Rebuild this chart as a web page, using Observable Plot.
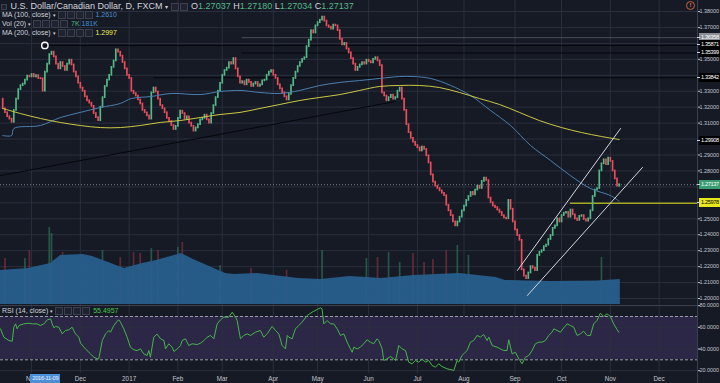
<!DOCTYPE html>
<html><head><meta charset="utf-8">
<script src="https://cdn.jsdelivr.net/npm/d3@7"></script>
<script src="https://cdn.jsdelivr.net/npm/@observablehq/plot@0.6"></script>
<style>
html,body{margin:0;padding:0;background:#161a25;}
#wrap{position:relative;width:720px;height:383px;overflow:hidden;background:#161a25;}
.layer{position:absolute;left:0;}
.layer svg{display:block;overflow:hidden;}
.txt{position:absolute;white-space:nowrap;font-family:"Liberation Sans",Arial,sans-serif;}
.ic{display:inline-block;width:6px;height:6px;border:1px solid #3b4050;background:#1f2330;margin-right:1px;vertical-align:middle;}
.tag{position:absolute;left:699px;width:21px;height:9px;line-height:9px;font-size:5.6px;letter-spacing:-0.35px;padding-left:2px;box-sizing:border-box;white-space:nowrap;font-family:"Liberation Sans",Arial,sans-serif;}
</style></head>
<body><div id="wrap"></div>
<script>
// ---------------- DATA ----------------
const startIdx = -13;            // first bar = 2016-10-13 (bar index, 0 = 2016-11-01)
const firstOpen = 1.3250;
const closes = [
1.3190,1.3165,1.3140,1.3125,1.3105,1.3180,1.3250,1.3310,1.3335,1.3345,
1.3370,1.3395,1.3390,1.3405,1.3390,1.3398,1.3380,1.3378,1.3300,1.3420,
1.3470,1.3530,1.3545,1.3515,1.3470,1.3440,1.3480,1.3455,1.3430,1.3470,
1.3495,1.3465,1.3420,1.3390,1.3350,1.3320,1.3300,1.3265,1.3240,1.3225,
1.3205,1.3160,1.3135,1.3115,1.3200,1.3260,1.3330,1.3370,1.3400,1.3450,
1.3490,1.3560,1.3545,1.3520,1.3480,1.3440,1.3400,1.3380,1.3300,1.3285,
1.3270,1.3245,1.3220,1.3180,1.3165,1.3145,1.3125,1.3290,1.3320,1.3295,
1.3250,1.3210,1.3190,1.3165,1.3130,1.3110,1.3085,1.3060,1.3080,1.3130,
1.3175,1.3160,1.3125,1.3140,1.3100,1.3080,1.3050,1.3070,1.3090,1.3120,
1.3130,1.3150,1.3120,1.3100,1.3160,1.3210,1.3260,1.3300,1.3350,1.3400,
1.3430,1.3445,1.3480,1.3470,1.3505,1.3440,1.3390,1.3350,1.3360,1.3340,
1.3370,1.3355,1.3330,1.3345,1.3355,1.3330,1.3340,1.3365,1.3370,1.3400,
1.3420,1.3430,1.3400,1.3380,1.3340,1.3315,1.3290,1.3265,1.3245,1.3280,
1.3335,1.3380,1.3420,1.3455,1.3480,1.3500,1.3510,1.3580,1.3620,1.3680,
1.3665,1.3710,1.3730,1.3745,1.3765,1.3740,1.3710,1.3700,1.3690,1.3715,
1.3710,1.3680,1.3625,1.3590,1.3600,1.3565,1.3540,1.3505,1.3470,1.3430,
1.3450,1.3465,1.3480,1.3470,1.3495,1.3485,1.3478,1.3500,1.3510,1.3490,
1.3460,1.3290,1.3270,1.3240,1.3260,1.3275,1.3250,1.3260,1.3300,1.3320,
1.3250,1.3180,1.3090,1.3040,1.3005,1.2980,1.2960,1.2945,1.2925,1.2950,
1.2935,1.2895,1.2850,1.2775,1.2730,1.2705,1.2690,1.2675,1.2660,1.2645,
1.2585,1.2550,1.2520,1.2480,1.2455,1.2480,1.2510,1.2550,1.2580,1.2615,
1.2640,1.2665,1.2650,1.2680,1.2705,1.2690,1.2735,1.2755,1.2740,1.2630,
1.2600,1.2580,1.2570,1.2555,1.2540,1.2520,1.2505,1.2500,1.2615,1.2560,
1.2480,1.2430,1.2395,1.2365,1.2180,1.2140,1.2125,1.2160,1.2200,1.2190,
1.2175,1.2270,1.2290,1.2300,1.2325,1.2335,1.2370,1.2395,1.2440,1.2455,
1.2500,1.2480,1.2520,1.2535,1.2540,1.2510,1.2555,1.2525,1.2500,1.2490,
1.2515,1.2520,1.2495,1.2485,1.2500,1.2550,1.2640,1.2680,1.2690,1.2800,
1.2845,1.2870,1.2840,1.2880,1.2860,1.2800,1.2750,1.2704,1.27137
];
const lastOHLC = [1.27037, 1.27180, 1.27034, 1.27137];

const ma100Idx = [-13,-9,-8,4,13,22,31,40,45,54,63,76,85,94,99,103,112,121,130,139,148,157,166,172,180,189,198,207,216,225,234,243,252,261,265];
const ma100Val = [1.3022,1.3022,1.3066,1.3085,1.3135,1.3167,1.3198,1.3223,1.3254,1.3267,1.3286,1.3279,1.3298,1.3305,1.3298,1.3292,1.3286,1.3305,1.3336,1.3355,1.3367,1.3380,1.3392,1.3392,1.3380,1.3336,1.3273,1.3179,1.3085,1.2960,1.2866,1.2771,1.2690,1.2646,1.2610];
const ma200Idx = [-13,-5,4,13,22,31,40,49,58,67,76,85,94,103,112,121,130,139,148,157,166,175,184,193,202,211,220,229,239,248,257,265];
const ma200Val = [1.3192,1.3160,1.3129,1.3104,1.3085,1.3072,1.3072,1.3085,1.3104,1.3116,1.3135,1.3154,1.3167,1.3192,1.3217,1.3242,1.3261,1.3279,1.3305,1.3330,1.3336,1.3336,1.3323,1.3292,1.3254,1.3217,1.3167,1.3116,1.3072,1.3041,1.3016,1.2997];

const volMaIdx = [-14,-1.4,8.6,13.1,23.4,27.5,41.9,50,56.4,67.6,73,87.5,91.5,101.9,120.4,130.7,143.4,151.5,157.8,172.2,193,209.6,213.7,234.4,255.2,265.5];
const volMaVal = [246,261,297,355,362,348,261,297,319,369,326,224,217,224,188,181,203,196,188,210,224,196,174,167,170,181];
const volIdx = [-12,-3,-1,8,9,14,32,40,46,49,54,57,66,68,85,99,115,131,151,156,161,166,172,177,181,187,192,197,257,265];
const volVal = [333,333,391,557,514,376,391,340,376,369,405,391,413,449,282,261,246,391,333,340,376,304,369,304,326,391,427,355,340,7];

const rsiIdx = [-14,-12.5,-10.2,-8.7,-8,-7.2,-6.5,-5.7,-3.5,-1.2,0.3,2.5,4,5.6,7.1,8.6,9.3,10.1,10.8,12.3,13.8,15.3,16.8,18.3,19.8,21.3,22.1,24.3,26.6,28.1,29.6,30.3,31.9,33.4,34.9,35.6,37.1,38.6,39.4,40.1,41.6,43.1,44.6,46.1,47.6,49.1,50.6,52.1,52.9,53.6,55.1,56.6,58.2,59.7,60.4,61.9,63.4,64.2,65.7,67.2,67.9,69.4,70.9,72.4,74.7,76.2,77.7,79.2,80.7,82.2,83.7,85.2,86.7,88.9,90.5,92,92.7,94.2,95.7,97.2,98.7,101,103.2,104.7,106.2,108.5,110,111.5,113,114.5,115.3,116,117.5,119,120.5,122,124.3,126.5,128.8,130.3,131,131.8,133.3,134.8,136.3,137.8,139.3,140.8,142.3,143.8,144.6,145.3,146.8,148.3,149.8,151.3,152.8,154.3,155.8,156.6,158.1,158.8,160.3,161.8,163.3,164.1,164.8,165.6,167.1,168.6,170.1,171.6,173.1,174.6,176.1,177.6,179.1,180.6,182.1,183.6,185.1,187.4,189.6,190.4,191.9,192.6,194.1,196.4,197.9,199.4,200.9,202.4,203.9,205.4,206.2,207.7,209.9,211.4,212.9,214.4,215.2,216.7,218.2,219.7,221.2,222.7,224.2,225.7,227.2,228.7,230.2,231.7,233.2,234.7,235.5,237,238.5,240,241.5,243,244.5,246,247.5,249,250.5,252,253.5,255,256.5,258,259.5,261,262.5,264,264.8];
const rsiVal = [58.6,50.9,47.8,47.2,60.1,63.2,58.6,61.7,63.2,63.8,63.2,63.2,61.7,63.2,66.9,67.8,63.2,59.5,60.8,60.1,54.0,57.1,57.7,60.1,54.0,50.9,45.4,40.1,35.5,32.4,30.9,30.9,47.8,54.0,57.1,55.5,61.7,65.7,66.9,64.8,58.6,50.9,41.7,39.2,38.6,40.1,35.5,34.0,38.6,32.4,50.9,53.7,49.4,47.8,40.1,44.8,41.7,37.7,40.1,43.2,47.8,49.4,43.2,44.8,44.1,45.4,47.8,50.9,52.5,49.4,63.2,66.9,69.4,69.4,74.0,69.4,66.3,49.4,52.5,54.0,52.5,55.5,57.1,50.9,54.0,60.8,57.1,54.0,43.2,40.1,52.5,50.9,49.4,58.6,61.7,64.8,70.9,74.0,76.5,78.0,77.1,63.2,66.3,63.2,63.2,58.6,52.5,54.0,46.3,40.1,37.0,41.7,40.1,41.7,44.8,48.5,46.3,44.8,49.4,47.8,40.1,29.4,30.9,33.1,30.9,29.4,35.5,43.2,40.1,38.6,27.8,26.3,29.4,27.8,30.9,27.8,29.4,24.8,23.2,26.3,23.8,21.7,20.7,20.1,29.4,27.8,34.0,38.6,46.3,47.8,52.5,50.9,53.4,47.8,50.9,43.2,41.7,40.1,38.6,38.6,48.5,35.5,37.0,30.9,26.3,32.4,34.0,38.6,44.8,46.3,46.3,47.8,52.5,55.5,58.6,57.1,55.5,59.5,63.2,61.7,60.1,52.5,54.0,56.4,52.5,52.5,63.2,66.3,73.1,70.0,72.5,70.0,63.2,58.0,55.4957];
const rsiLevels = [30, 70];
const rsiTicks = [20, 40, 60, 80];

const trendIdx = [-14, 164];  const trendVal = [1.2771, 1.3236];
const chanUpIdx = [219.1, 265.6]; const chanUpVal = [1.2176, 1.3066];
const chanLoIdx = [223.6, 275.5]; const chanLoVal = [1.2019, 1.2822];
const levelPrices = [1.36358, 1.35871, 1.35399, 1.33842, 1.25978];
const levelStart  = [95, 6, 95, 55, 243];
const tagPrices = [1.36358, 1.35871, 1.35399, 1.33842, 1.29908, 1.27137, 1.25978];

const gridTicks = [1.20,1.21,1.22,1.23,1.24,1.25,1.26,1.27,1.28,1.29,1.30,1.31,1.32,1.33,1.34,1.35,1.36,1.37,1.38];
const priceTicks = [1.20,1.21,1.22,1.23,1.24,1.25,1.28,1.29,1.31,1.32,1.33,1.35,1.37,1.38];
const monthIdx = [0,22,44,66,86,109,129,152,174,195,218,239,261,283,304];
const monthLabels = ["Nov","Dec","2017","Feb","Mar","Apr","May","Jun","Jul","Aug","Sep","Oct","Nov","Dec","2018"];
const cursorPt = [{i: 6, p: 1.3587}];
const cursorDate = {i: 6, label: "2016-11-09"};

// ---------------- BUILD ----------------
const FONT = '"Liberation Sans",Arial,sans-serif';
const BG = "#161a25", GRID = "#2a2f3e", UP = "#53b987", DN = "#eb4d5c";
const W = 720, AX = 23, MAIN_H = 305;
const xDomain = [-14, 300.3];
const yDomain = [1.19561, 1.38690];

const candles = closes.map((c, k) => ({i: startIdx + k, open: k ? closes[k - 1] : firstOpen, close: c}));
candles[candles.length - 1].open = lastOHLC[0];
const upOf = i => { const c = candles.find(d => d.i === i); return c ? c.close >= c.open : true; };
const zip = (a, b) => a.map((v, k) => ({i: v, v: b[k]}));
const ma100 = zip(ma100Idx, ma100Val), ma200 = zip(ma200Idx, ma200Val);
const volMa = zip(volMaIdx, volMaVal), vols = zip(volIdx, volVal);
const rsi = zip(rsiIdx, rsiVal);
const gridMonths = monthIdx.filter(d => d <= xDomain[1]);

const wrap = document.getElementById("wrap");
function layer(svg, top) { const d = document.createElement("div"); d.className = "layer"; d.style.top = top + "px"; d.appendChild(svg); wrap.appendChild(d); return svg; }
const baseStyle = {background: "transparent", fontFamily: FONT, fontSize: "6.3px", color: "#c3c6ce"};
function squeezeAxis(svg) {
  d3.select(svg).selectAll("text").each(function () {
    if (/^\d+\.\d{4,5}$/.test(this.textContent.trim())) this.style.fontSize = "5.4px";
  });
}

// grid + price axis
const gridPlot = Plot.plot({
  width: W, height: MAIN_H, marginTop: 0, marginLeft: 0, marginBottom: 0, marginRight: AX,
  style: baseStyle,
  x: {domain: xDomain, axis: null},
  y: {domain: yDomain, axis: "right", ticks: priceTicks, tickSize: 2, tickPadding: 0, tickFormat: d3.format(".5f"), label: null},
  marks: [
    Plot.ruleY(gridTicks, {stroke: GRID, strokeWidth: 1}),
    Plot.ruleX(gridMonths, {stroke: GRID, strokeWidth: 1})
  ]
});
squeezeAxis(gridPlot);
layer(gridPlot, 0);

// volume overlay
const volPlot = Plot.plot({
  width: W, height: MAIN_H - 1, margin: 0, marginRight: AX, style: baseStyle,
  x: {domain: xDomain, axis: null}, y: {domain: [0, 2200], axis: null},
  marks: [
    Plot.ruleX(vols, {x: "i", y1: 0, y2: "v", stroke: d => upOf(d.i) ? "#2d6a52" : "#7a2f3b", strokeWidth: 1.7, strokeOpacity: 0.75}),
    Plot.areaY(volMa, {x: "i", y: "v", fill: "#285f8f", fillOpacity: 0.92})
  ]
});
layer(volPlot, 0);

// price marks
const pricePlot = Plot.plot({
  width: W, height: MAIN_H, marginTop: 0, marginLeft: 0, marginBottom: 0, marginRight: AX, style: baseStyle,
  x: {domain: xDomain, axis: null}, y: {domain: yDomain, axis: null},
  marks: [
    Plot.ruleY([closes[closes.length - 1]], {stroke: "#8d93a0", strokeDasharray: "1,2", strokeOpacity: 0.8}),
    Plot.ruleY(levelPrices, {y: d => d, x1: (d, k) => levelStart[k], x2: xDomain[1],
      stroke: (d, k) => k === 4 ? "#e8e81c" : (k === 0 ? "#4a4e5a" : "#05070b"), strokeWidth: 1}),
    Plot.line(zip(trendIdx, trendVal), {x: "i", y: "v", stroke: "#05070b", strokeWidth: 1}),
    Plot.ruleX(candles, {x: "i", y1: "open", y2: "close", stroke: d => d.close >= d.open ? UP : DN, strokeWidth: 1.7, strokeLinecap: "square"}),
    Plot.line(ma100, {x: "i", y: "v", stroke: "#4b7fae", strokeWidth: 1, curve: "catmull-rom"}),
    Plot.line(ma200, {x: "i", y: "v", stroke: "#cdc843", strokeWidth: 1, curve: "catmull-rom"}),
    Plot.line(zip(chanUpIdx, chanUpVal), {x: "i", y: "v", stroke: "#d4d6dc", strokeWidth: 1}),
    Plot.line(zip(chanLoIdx, chanLoVal), {x: "i", y: "v", stroke: "#d4d6dc", strokeWidth: 1}),
    Plot.dot(cursorPt, {x: "i", y: "p", r: 3.2, stroke: "#ffffff", strokeWidth: 1.4, fill: "none"})
  ]
});
layer(pricePlot, 0);

// RSI pane + time axis (svg starts 7px above the pane so the top tick label is not clipped)
const labelOf = new Map(monthIdx.map((d, k) => [d, monthLabels[k]]));
const rsiPlot = Plot.plot({
  width: W, height: 84, marginTop: 7, marginLeft: 0, marginBottom: 10, marginRight: AX, style: baseStyle,
  x: {domain: xDomain, axis: "bottom", ticks: monthIdx, tickFormat: d => labelOf.get(d), tickSize: 0, tickPadding: 3, label: null},
  y: {domain: [17.37, 79.23], axis: "right", ticks: rsiTicks, tickFormat: d3.format(".4f"), tickSize: 2, tickPadding: 0, label: null},
  marks: [
    Plot.areaY([{i: xDomain[0]}, {i: xDomain[1]}], {x: "i", y1: rsiLevels[0], y2: rsiLevels[1], fill: "#7e57c2", fillOpacity: 0.22}),
    Plot.ruleY(rsiTicks, {stroke: GRID}),
    Plot.ruleX(gridMonths, {stroke: GRID}),
    Plot.ruleY(rsiLevels, {stroke: "#9a9ea9", strokeDasharray: "3,2", strokeWidth: 1}),
    Plot.line(rsi, {x: "i", y: "v", stroke: "#45b64a", strokeWidth: 1})
  ]
});
squeezeAxis(rsiPlot);
layer(rsiPlot, 299);

// separators
function box(css) { const d = document.createElement("div"); d.style.cssText = "position:absolute;" + css; wrap.appendChild(d); return d; }
box("left:0;top:305px;width:697px;height:1px;background:#3a3f4e;");
box(`left:699px;top:373px;width:21px;height:10px;background:${BG};`);
box("left:697px;top:0;width:1px;height:383px;background:#3a3f4e;");

// price tags on the axis (positioned with the plot's own y scale)
const ys = pricePlot.scale("y");
const tagBg = ["#8a8d96", "#000", "#000", "#000", "#000", "#3a9c72", "#e8e81c"];
const tagFg = ["#fff", "#fff", "#fff", "#fff", "#fff", "#fff", "#000"];
tagPrices.forEach((p, k) => {
  const y = ys.apply(p);
  const t = box(`top:${y - 4.5}px;`); t.className = "tag";
  t.style.background = tagBg[k]; t.style.color = tagFg[k];
  t.textContent = p.toFixed(5);
  box(`left:697px;top:${y - 0.5}px;width:3px;height:1px;background:#d1d4dc;`);
});

// crosshair date badge
const xs = rsiPlot.scale("x");
const db = box(`left:${xs.apply(cursorDate.i) - 14}px;top:374px;width:30px;height:10px;background:#4b8fd8;color:#e9eef7;font-size:5.8px;letter-spacing:-0.3px;line-height:9px;text-align:center;white-space:nowrap;font-family:${FONT};`);
db.textContent = cursorDate.label;

// legends
function txt(left, top, size, html) { const d = box(`left:${left}px;top:${top}px;font-size:${size}px;color:#d1d4dc;`); d.className = "txt"; d.innerHTML = html; return d; }
const ic = n => '<span class="ic"></span>'.repeat(n);
const f5 = d3.format(".5f");
txt(1, 1, 9, `<span class="ic" style="width:4px;height:4px"></span> U.S. Dollar/Canadian Dollar, D, FXCM <span style="font-size:6px">▾</span> ${ic(2)} ` +
  ["O","H","L","C"].map((l, k) => `<span>${l}</span><span style="color:${UP}">${f5(lastOHLC[k])}</span>`).join(" "));
txt(2, 11, 7, `MA (100, close) <span style="font-size:5px">▾</span> ${ic(4)} <span style="color:#4f8fce">${ma100Val[ma100Val.length - 1].toFixed(4)}</span>`);
txt(2, 20, 7, `Vol (20) <span style="font-size:5px">▾</span> ${ic(4)} <span style="color:${UP}">${volVal[volVal.length - 1]}K</span> <span style="color:#3d8fd6">${volMaVal[volMaVal.length - 1]}K</span>`);
txt(2, 29, 7, `MA (200, close) <span style="font-size:5px">▾</span> ${ic(4)} <span style="color:#f0f04a">${ma200Val[ma200Val.length - 1].toFixed(4)}</span>`);
txt(2, 307, 7, `RSI (14, close) <span style="font-size:5px">▾</span> ${ic(4)} <span style="color:#45c84a">${rsiVal[rsiVal.length - 1].toFixed(4)}</span>`);

// alert icon
const al = box("left:686px;top:1px;width:7px;height:7px;border:1px solid #c8643c;border-radius:50%;color:#e07a4a;font-size:6px;line-height:7px;text-align:center;font-family:Arial,sans-serif;font-weight:bold;");
al.textContent = "!";
</script>
</body></html>
